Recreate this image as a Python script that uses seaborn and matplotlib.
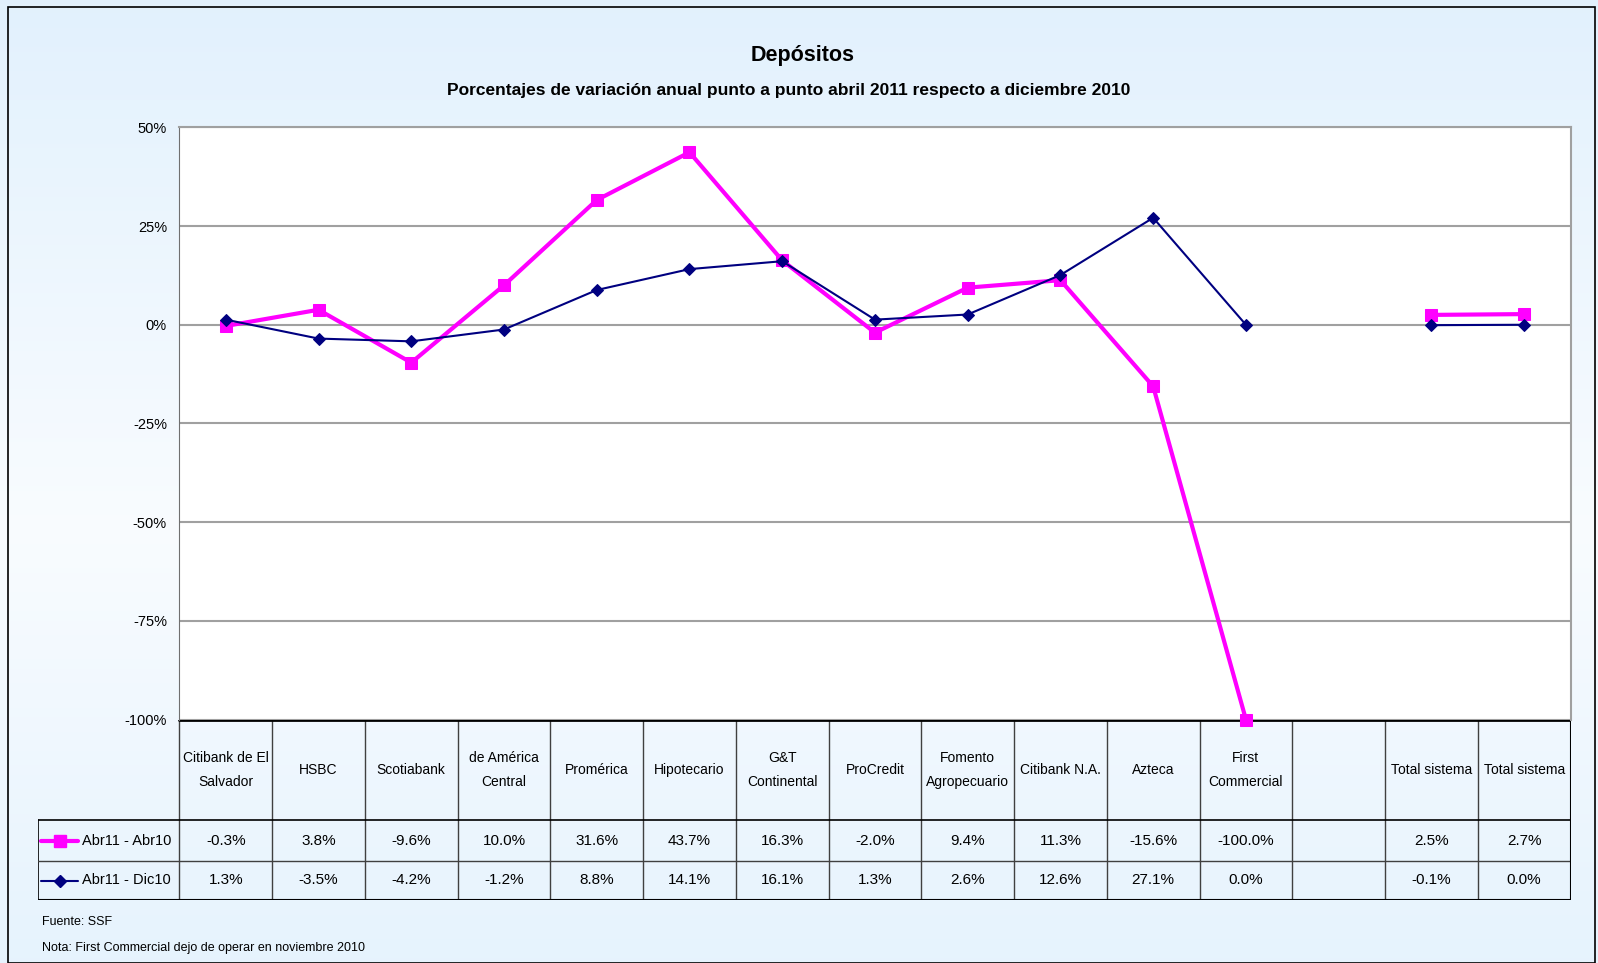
import numpy as np
import pandas as pd
import seaborn as sns
import matplotlib
matplotlib.use("Agg")
from matplotlib import pyplot as plt
from matplotlib.lines import Line2D
from matplotlib.patches import Rectangle

banks = ["Citibank de El\nSalvador", "HSBC", "Scotiabank", "de América\nCentral",
         "Promérica", "Hipotecario", "G&T\nContinental", "ProCredit",
         "Fomento\nAgropecuario", "Citibank N.A.", "Azteca", "First\nCommercial",
         "", "Total sistema", "Total sistema"]
abr11_abr10 = [-0.3, 3.8, -9.6, 10.0, 31.6, 43.7, 16.3, -2.0, 9.4, 11.3, -15.6, -100.0,
               np.nan, 2.5, 2.7]
abr11_dic10 = [1.3, -3.5, -4.2, -1.2, 8.8, 14.1, 16.1, 1.3, 2.6, 12.6, 27.1, 0.0,
               np.nan, -0.1, 0.0]
series_names = ["Abr11 - Abr10", "Abr11 - Dic10"]
yticks = [-100, -75, -50, -25, 0, 25, 50]

rows = []
for name, vals in zip(series_names, [abr11_abr10, abr11_dic10]):
    seg = 0
    for i, v in enumerate(vals):
        if np.isnan(v):
            seg += 1
            continue
        rows.append({"serie": name, "pos": i, "valor": v, "seg": seg})
df = pd.DataFrame(rows)

sns.set_style("white")
plt.rcParams["font.family"] = ["Liberation Sans", "DejaVu Sans"]
plt.rcParams["text.color"] = "black"
plt.rcParams["ytick.labelcolor"] = "black"

W, H = 1598, 963
fig = plt.figure(figsize=(W / 100, H / 100), dpi=100)

# background gradient
bg = fig.add_axes([0, 0, 1, 1], zorder=-10)
top = np.array([0.886, 0.945, 0.992])
mid = np.array([0.975, 0.988, 1.0])
t = np.linspace(0, 1, 200)
w = np.clip(1 - np.abs(t - 0.55) / 0.55, 0, 1)
grad = (1 - w)[:, None] * top + w[:, None] * mid
bg.imshow(grad[:, None, :], aspect="auto", extent=[0, 1, 0, 1])
bg.add_patch(Rectangle((8 / W, 0), (1595 - 8) / W, 1 - 7 / H, fill=False,
                       edgecolor="black", linewidth=1.2))
bg.set_xlim(0, 1)
bg.set_ylim(0, 1)
bg.axis("off")

def px_rect(l, t_, r, b):
    return [l / W, 1 - b / H, (r - l) / W, (b - t_) / H]

pl, pt, pr, pb = 179.4, 127.4, 1570.5, 719.5
ax = fig.add_axes(px_rect(pl, pt, pr, pb), zorder=2)
ax.set_facecolor("white")
palette = {"Abr11 - Abr10": "#FF00FF", "Abr11 - Dic10": "#000080"}
for name, lw, mk, ms in [("Abr11 - Abr10", 3.0, "s", 8), ("Abr11 - Dic10", 1.5, "D", 6)]:
    sub = df[df["serie"] == name]
    sns.lineplot(data=sub, x="pos", y="valor", units="seg", estimator=None,
                 color=palette[name], linewidth=lw, marker=mk, markersize=ms,
                 markeredgecolor=palette[name], ax=ax, legend=False, zorder=3,
                 clip_on=False)
ax.set_xlim(-0.5, len(banks) - 0.5)
ax.set_ylim(-100, 50)
ax.set_yticks(yticks)
ax.set_yticklabels([f"{v}%" for v in yticks], fontsize=10.5)
ax.set_xticks([])
ax.set_xlabel("")
ax.set_ylabel("")
for v in yticks:
    ax.axhline(v, color="#a0a0a0", linewidth=1.5, zorder=1)
ax.tick_params(axis="y", length=6, width=1, color="#707070", pad=3)
for s in ["top", "right"]:
    ax.spines[s].set_color("#a0a0a0")
    ax.spines[s].set_linewidth(1.5)
ax.spines["left"].set_color("#707070")
ax.spines["bottom"].set_visible(False)

fig.text(803 / W, 1 - 55 / H, "Depósitos", ha="center", va="center",
         fontsize=15.5, fontweight="bold")
fig.text(789 / W, 1 - 91 / H,
         "Porcentajes de variación anual punto a punto abril 2011 respecto a diciembre 2010",
         ha="center", va="center", fontsize=12.5, fontweight="bold")

# data table
tl, tb = 37.7, 899.9
colw = (pr - pl) / len(banks)
x0 = -0.5 - (pl - tl) / colw
h1, h2, h3 = 820.4 - pb, 861.1 - pb, tb - pb
tax = fig.add_axes(px_rect(tl, pb, pr, tb), zorder=1)
tax.set_xlim(x0, len(banks) - 0.5)
tax.set_ylim(h3, 0)
tax.axis("off")
lc = "#404040"
for k in range(len(banks) + 1):
    tax.plot([k - 0.5, k - 0.5], [0, h3], color=lc, linewidth=1)
tax.plot([x0, x0], [h1, h3], color="black", linewidth=1.2)
tax.plot([-0.5, len(banks) - 0.5], [0, 0], color="black", linewidth=2)
tax.plot([x0, len(banks) - 0.5], [h1, h1], color="black", linewidth=1.2)
tax.plot([x0, len(banks) - 0.5], [h2, h2], color=lc, linewidth=1)
tax.plot([x0, len(banks) - 0.5], [h3, h3], color="black", linewidth=1.5)
tax.plot([len(banks) - 0.5] * 2, [0, h3], color="black", linewidth=1.5)

for i, b in enumerate(banks):
    tax.text(i, h1 / 2, b, ha="center", va="center", fontsize=10, linespacing=1.9)
for (name, vals, yc) in [(series_names[0], abr11_abr10, (h1 + h2) / 2),
                         (series_names[1], abr11_dic10, (h2 + h3) / 2)]:
    for i, v in enumerate(vals):
        if not np.isnan(v):
            tax.text(i, yc, f"{v:.1f}%", ha="center", va="center", fontsize=11)
    kx0 = x0 + (41 - tl) / colw
    kx1 = x0 + (78 - tl) / colw
    big = name == series_names[0]
    tax.add_line(Line2D([kx0, kx1], [yc, yc], color=palette[name],
                        linewidth=3 if big else 1.5))
    tax.add_line(Line2D([(kx0 + kx1) / 2], [yc], marker="s" if big else "D",
                        markersize=8 if big else 6, color=palette[name]))
    tax.text(x0 + (81.5 - tl) / colw, yc, name, ha="left", va="center", fontsize=10.5)

fig.text(42 / W, 1 - 922 / H, "Fuente: SSF", ha="left", va="center", fontsize=9)
fig.text(42 / W, 1 - 948 / H, "Nota: First Commercial dejo de operar en noviembre 2010",
         ha="left", va="center", fontsize=9)

plt.savefig("out.png", dpi=100)
